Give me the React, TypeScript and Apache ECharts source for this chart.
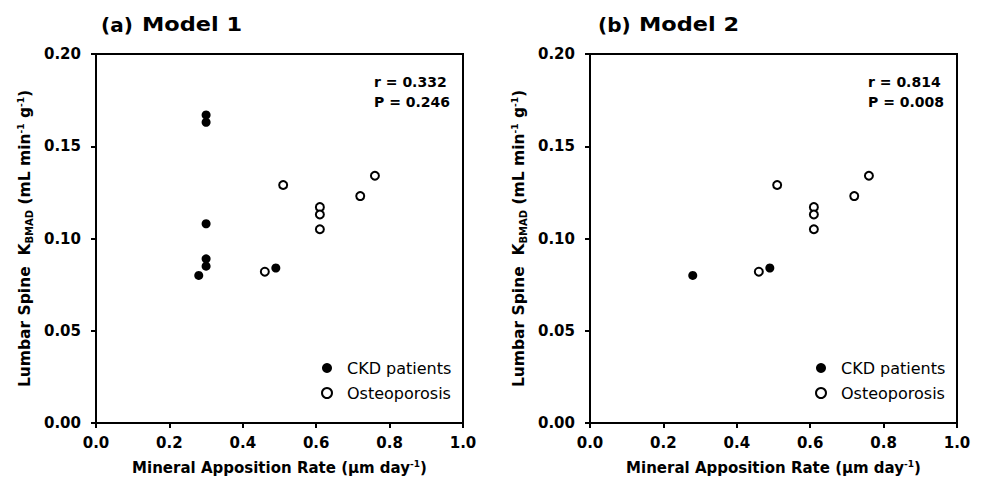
import React, { useEffect, useRef } from "react";
import * as echarts from "echarts";

const xTicks = [0, 0.2, 0.4, 0.6, 0.8, 1.0];
const yTicks = [0, 0.05, 0.1, 0.15, 0.2];

// Panel (a) Model 1
const ckdAX = [0.3, 0.3, 0.3, 0.3, 0.3, 0.28, 0.49];
const ckdAY = [0.167, 0.163, 0.108, 0.089, 0.085, 0.08, 0.084];
// Panel (b) Model 2
const ckdBX = [0.28, 0.49];
const ckdBY = [0.08, 0.084];
// Osteoporosis (both panels)
const osteoX = [0.46, 0.51, 0.61, 0.61, 0.61, 0.72, 0.76];
const osteoY = [0.082, 0.129, 0.117, 0.113, 0.105, 0.123, 0.134];

const panelTitles = [
  { tag: "(a)", name: "Model 1" },
  { tag: "(b)", name: "Model 2" },
];
const stats = [
  { r: "r = 0.332", p: "P = 0.246" },
  { r: "r = 0.814", p: "P = 0.008" },
];
const seriesNames = ["CKD patients", "Osteoporosis"];

const FONT = "DejaVu Sans";

const zip = (xs: number[], ys: number[]) => xs.map((x, i) => [x, ys[i]]);

export default function App() {
  const ref = useRef<HTMLDivElement>(null);
  useEffect(() => {
    if (!ref.current) return;
    const chart = echarts.init(ref.current, undefined, { renderer: "svg" });
    const gridLefts = [96, 590];
    const plotW = 367;

    const grids = gridLefts.map((l) => ({
      left: l,
      top: 54,
      width: plotW,
      height: 369,
      show: true,
      borderColor: "#000",
      borderWidth: 2,
      backgroundColor: "transparent",
    }));

    const axisCommon = {
      axisLine: { show: true, onZero: false, lineStyle: { color: "#000", width: 2 } },
      axisTick: { show: true, inside: false, length: 5, lineStyle: { color: "#000", width: 2 } },
      splitLine: { show: false },
    };

    const xAxes = gridLefts.map((_, i) => ({
      type: "value",
      gridIndex: i,
      min: xTicks[0],
      max: xTicks[xTicks.length - 1],
      interval: 0.2,
      ...axisCommon,
      axisLabel: {
        color: "#000",
        fontFamily: FONT,
        fontWeight: "bold",
        fontSize: 15,
        margin: 12,
        formatter: (v: number) => v.toFixed(1),
      },
      name: "Mineral Apposition Rate (\u03bcm day{sup|-1})",
      nameLocation: "middle",
      nameGap: 36,
      nameTextStyle: {
        color: "#000",
        fontFamily: FONT,
        fontWeight: "bold",
        fontSize: 15,
        lineHeight: 18,
        rich: {
          sup: {
            fontFamily: FONT,
            fontWeight: "bold",
            fontSize: 9,
            color: "#000",
            verticalAlign: "top",
            lineHeight: 18,
          },
        },
      },
    }));

    const yAxes = gridLefts.map((_, i) => ({
      type: "value",
      gridIndex: i,
      min: yTicks[0],
      max: yTicks[yTicks.length - 1],
      interval: 0.05,
      ...axisCommon,
      axisLabel: {
        color: "#000",
        fontFamily: FONT,
        fontWeight: "bold",
        fontSize: 15,
        margin: 15,
        formatter: (v: number) => v.toFixed(2),
      },
      name: "Lumbar Spine  K{sub|BMAD} (mL min{sup|-1} g{sup|-1})",
      nameLocation: "middle",
      nameRotate: 90,
      nameGap: 62,
      nameTextStyle: {
        color: "#000",
        fontFamily: FONT,
        fontWeight: "bold",
        fontSize: 15.5,
        lineHeight: 18,
        rich: {
          sup: {
            fontFamily: FONT,
            fontWeight: "bold",
            fontSize: 9,
            color: "#000",
            verticalAlign: "top",
            lineHeight: 18,
          },
          sub: {
            fontFamily: FONT,
            fontWeight: "bold",
            fontSize: 10,
            color: "#000",
            verticalAlign: "bottom",
            lineHeight: 18,
          },
        },
      },
    }));

    const filledStyle = { color: "#000", opacity: 1 };
    const openStyle = { color: "#fff", borderColor: "#000", borderWidth: 2, opacity: 1 };

    const series: any[] = [];
    const ckdData = [zip(ckdAX, ckdAY), zip(ckdBX, ckdBY)];
    gridLefts.forEach((_, i) => {
      series.push({
        type: "scatter",
        name: seriesNames[1],
        xAxisIndex: i,
        yAxisIndex: i,
        symbol: "circle",
        symbolSize: 8,
        itemStyle: openStyle,
        data: zip(osteoX, osteoY),
        z: 2,
      });
      series.push({
        type: "scatter",
        name: seriesNames[0],
        xAxisIndex: i,
        yAxisIndex: i,
        symbol: "circle",
        symbolSize: 9,
        itemStyle: filledStyle,
        data: ckdData[i],
        z: 3,
      });
    });

    const legends = gridLefts.map((l) => ({
      orient: "vertical",
      left: l + 220,
      top: 355,
      itemWidth: 30,
      itemHeight: 10,
      itemGap: 9,
      selectedMode: false,
      textStyle: { color: "#000", fontFamily: FONT, fontSize: 16, lineHeight: 16 },
      data: [
        { name: seriesNames[0], icon: "circle", itemStyle: { color: "#000", borderWidth: 0, opacity: 1 } },
        { name: seriesNames[1], icon: "circle", itemStyle: { color: "#fff", borderColor: "#000", borderWidth: 2, opacity: 1 } },
      ],
    }));

    const txt = (x: number, y: number, text: string, size: number, extra: any = {}) => ({
      type: "text",
      x,
      y,
      ...extra,
      style: {
        text,
        fill: "#000",
        fontFamily: FONT,
        fontWeight: "bold",
        fontSize: size,
        align: "left",
        verticalAlign: "middle",
      },
    });

    const graphics: any[] = [];
    gridLefts.forEach((l, i) => {
      graphics.push(txt(l + (i === 0 ? 5 : 8), 25, panelTitles[i].tag, 20));
      graphics.push(txt(l + (i === 0 ? 46 : 49), 25, panelTitles[i].name, 19, { scaleX: 1.18 }));
      graphics.push(txt(l + 278, 82, stats[i].r, 14));
      graphics.push(txt(l + 278, 102, stats[i].p, 14));
    });

    chart.setOption({
      animation: false,
      backgroundColor: "#fff",
      grid: grids,
      xAxis: xAxes,
      yAxis: yAxes,
      series,
      legend: legends,
      graphic: graphics,
    });
    return () => chart.dispose();
  }, []);
  return (
    <div
      ref={ref}
      style={{ position: "fixed", left: 0, top: 0, width: 984, height: 482 }}
    />
  );
}
